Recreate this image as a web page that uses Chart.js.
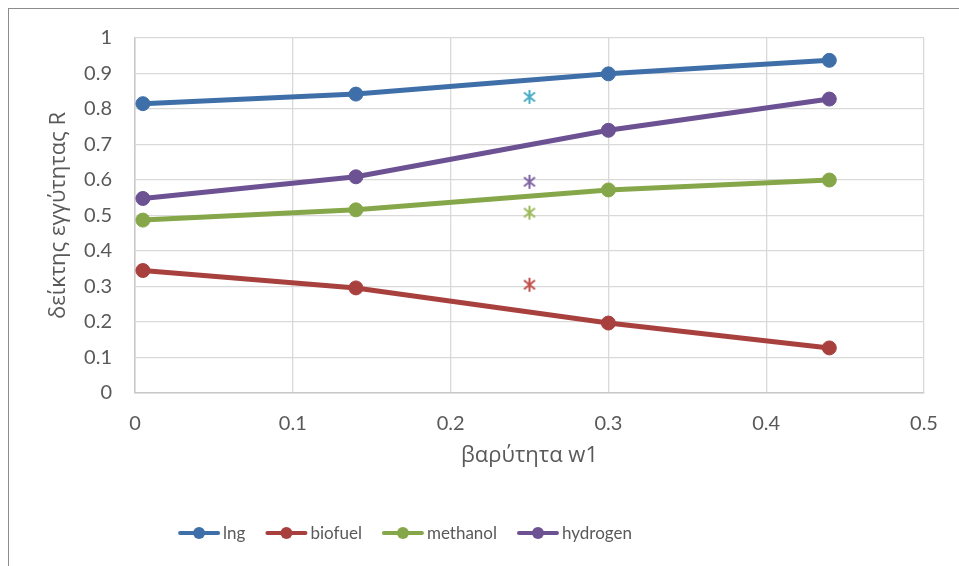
<!DOCTYPE html>
<html>
<head>
<meta charset="utf-8">
<script src="https://cdn.jsdelivr.net/npm/chart.js@4/dist/chart.umd.min.js"></script>
<style>
  html, body { margin: 0; padding: 0; background: #fff; overflow: hidden; }
  #frame { position: absolute; left: 8px; top: 8px; width: 1000px; height: 600px;
           border: 1px solid #8c8c8c; box-sizing: border-box; }
  #wrap { position: absolute; left: 0; top: 0; width: 959px; height: 566px; }
</style>
</head>
<body>
<div id="frame"></div>
<div id="wrap"><canvas id="c" width="959" height="566"></canvas></div>
<script>
// weight w1 on the horizontal axis
const weights = [0.005, 0.14, 0.3, 0.44];

// closeness index R for each fuel
const lngValues      = [0.815, 0.842, 0.899, 0.937];
const biofuelValues  = [0.345, 0.296, 0.197, 0.127];
const methanolValues = [0.487, 0.516, 0.572, 0.600];
const hydrogenValues = [0.548, 0.609, 0.740, 0.828];

// single reference points at w1 = 0.25 (lng, biofuel, methanol, hydrogen)
const markerWeight = 0.25;
const markerValues = [0.834, 0.305, 0.508, 0.595];

const seriesNames = ['lng', 'biofuel', 'methanol', 'hydrogen'];
const xTickValues = [0, 0.1, 0.2, 0.3, 0.4, 0.5];
const yTickValues = [0, 0.1, 0.2, 0.3, 0.4, 0.5, 0.6, 0.7, 0.8, 0.9, 1];

const lineColors   = ['#3f6fa8', '#a8413e', '#86a749', '#6c5193'];
const markerColors = ['#4bacc6', '#c0504d', '#9bbb59', '#8064a2'];
const FONT = 'Lato, "Noto Sans", sans-serif';
const TITLE_FONT = '"Open Sans", "Noto Sans", sans-serif';

function toPoints(xs, ys) { return xs.map((x, i) => ({ x: x, y: ys[i] })); }

// asterisk glyph used for the single points
function asterisk(color) {
  const s = 16, c = document.createElement('canvas');
  c.width = s; c.height = s;
  const g = c.getContext('2d');
  g.strokeStyle = color; g.lineWidth = 2;
  g.lineCap = 'butt';
  g.beginPath();
  g.moveTo(s / 2, 1); g.lineTo(s / 2, s - 1);
  g.moveTo(2.5, 3.5); g.lineTo(s - 2.5, s - 3.5);
  g.moveTo(s - 2.5, 3.5); g.lineTo(2.5, s - 3.5);
  g.stroke();
  return c;
}

const seriesValues = [lngValues, biofuelValues, methanolValues, hydrogenValues];

const lineSets = seriesNames.map((name, i) => ({
  label: name,
  inKey: true,
  data: toPoints(weights, seriesValues[i]),
  showLine: true,
  borderColor: lineColors[i],
  backgroundColor: lineColors[i],
  borderWidth: 5,
  pointRadius: 7,
  pointBorderWidth: 1,
  pointBackgroundColor: lineColors[i],
  pointBorderColor: lineColors[i],
  tension: 0
}));

const markerSets = seriesNames.map((name, i) => ({
  label: name + ' (w1 = 0.25)',
  inKey: false,
  data: [{ x: markerWeight, y: markerValues[i] }],
  showLine: false,
  pointStyle: asterisk(markerColors[i]),
  pointRadius: 8,
  borderColor: markerColors[i],
  backgroundColor: markerColors[i]
}));

// key drawn beneath the plot: line + dot + name for each fuel
const seriesKey = {
  id: 'seriesKey',
  afterDraw(chart) {
    const ctx = chart.ctx;
    const items = chart.data.datasets.filter(d => d.inKey);
    ctx.save();
    ctx.font = '17px ' + FONT;
    const lineLen = 42, gapText = 3, gapItem = 20;
    const widths = items.map(d => ctx.measureText(d.label).width);
    const total = widths.reduce((a, w) => a + lineLen + gapText + w, 0) + gapItem * (items.length - 1);
    let x = 405 - total / 2;
    const y = 533;
    items.forEach((d, i) => {
      ctx.strokeStyle = d.borderColor;
      ctx.lineWidth = 4;
      ctx.lineCap = 'round';
      ctx.beginPath(); ctx.moveTo(x + 2, y); ctx.lineTo(x + lineLen - 2, y); ctx.stroke();
      ctx.fillStyle = d.borderColor;
      ctx.beginPath(); ctx.arc(x + lineLen / 2, y, 6, 0, Math.PI * 2); ctx.fill();
      ctx.fillStyle = '#595959';
      ctx.textBaseline = 'middle';
      ctx.textAlign = 'left';
      ctx.fillText(d.label, x + lineLen + gapText, y + 1);
      x += lineLen + gapText + widths[i] + gapItem;
    });
    ctx.restore();
  }
};

Chart.defaults.font.family = FONT;
Chart.defaults.color = '#595959';

new Chart(document.getElementById('c'), {
  type: 'scatter',
  data: { datasets: [...markerSets, ...lineSets] },
  options: {
    responsive: false,
    animation: false,
    devicePixelRatio: 1,
    layout: { padding: { top: 38, right: 35, bottom: 73, left: 0 } },
    plugins: { legend: { display: false }, tooltip: { enabled: false } },
    scales: {
      x: {
        type: 'linear',
        min: 0, max: 0.5,
        afterBuildTicks: s => { s.ticks = xTickValues.map(v => ({ value: v })); },
        afterFit: s => { s.height = 100; },
        ticks: { font: { size: 20 }, padding: 19, callback: v => String(v) },
        grid: { color: '#d9d9d9', lineWidth: 1.3, drawTicks: false },
        border: { color: '#c9c9c9', width: 1.5 },
        title: { display: true, text: 'βαρύτητα w1', font: { size: 22, family: TITLE_FONT }, padding: { top: 0, bottom: 24 } }
      },
      y: {
        type: 'linear',
        min: 0, max: 1,
        afterBuildTicks: s => { s.ticks = yTickValues.map(v => ({ value: v })); },
        afterFit: s => { s.width = 135; },
        ticks: { font: { size: 20 }, padding: 23, callback: v => String(v) },
        grid: { color: '#d9d9d9', lineWidth: 1.3, drawTicks: false },
        border: { color: '#c9c9c9', width: 1.5 },
        title: { display: true, text: 'δείκτης εγγύτητας R', font: { size: 22, family: TITLE_FONT }, padding: { top: 46, bottom: 0 } }
      }
    }
  },
  plugins: [seriesKey]
});
</script>
</body>
</html>
